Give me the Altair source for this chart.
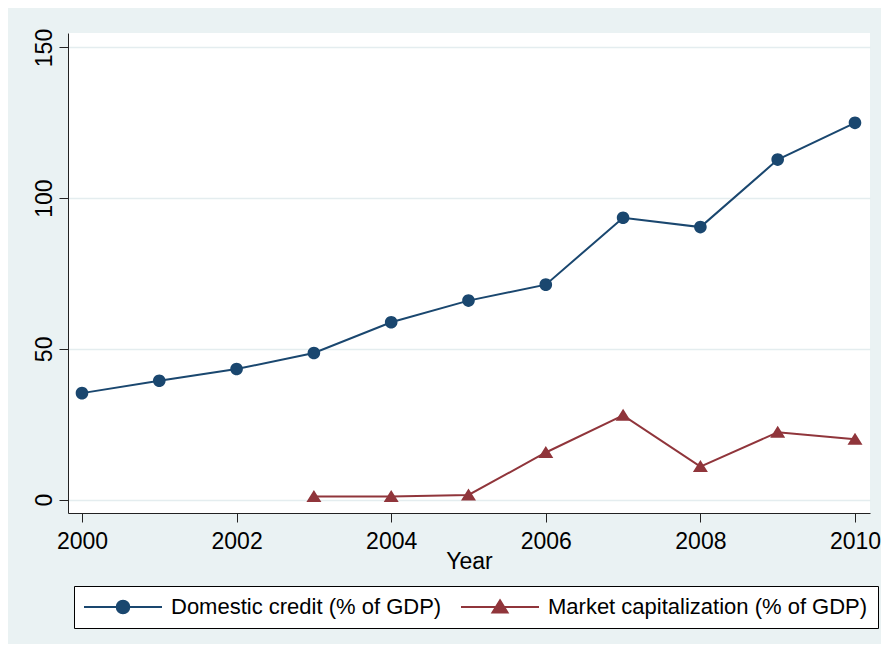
import altair as alt
import pandas as pd

# ---- data ----
years = [2000, 2001, 2002, 2003, 2004, 2005, 2006, 2007, 2008, 2009, 2010]
domestic_credit = [35.3, 39.4, 43.3, 48.6, 58.8, 66.0, 71.3, 93.5, 90.4, 112.8, 125.0]
market_cap_years = [2003, 2004, 2005, 2006, 2007, 2008, 2009, 2010]
market_cap = [1.0, 1.0, 1.5, 15.6, 27.9, 10.9, 22.3, 20.0]
series_names = ["Domestic credit (% of GDP)", "Market capitalization (% of GDP)"]
series_colors = ["#1A476F", "#90353B"]
x_ticks = [2000, 2002, 2004, 2006, 2008, 2010]
y_ticks = [0, 50, 100, 150]

FONT = "Liberation Sans"
BG = "#EAF2F3"

df_dc = pd.DataFrame({"Year": years, "value": domestic_credit, "series": series_names[0]})
df_mc = pd.DataFrame({"Year": market_cap_years, "value": market_cap, "series": series_names[1]})
df = pd.concat([df_dc, df_mc], ignore_index=True)

x_enc = alt.X(
    "Year:Q",
    scale=alt.Scale(domain=[1999.819, 2010.194], nice=False, zero=False),
    axis=alt.Axis(
        values=x_ticks, format="d", title="Year", grid=False,
        tickSize=9, labelPadding=8, labelFontSize=23, labelFont=FONT,
        labelColor="black", titleFont=FONT, titleFontSize=23,
        titleFontWeight="normal", titleColor="black",
        titleBaseline="top", titleY=37, domainColor="#222", tickColor="#222",
        labelFlush=False, labelOverlap=False,
    ),
)
y_enc = alt.Y(
    "value:Q",
    scale=alt.Scale(domain=[-4.48, 154.81], nice=False, zero=False),
    axis=alt.Axis(
        values=y_ticks, title=None, grid=True, gridColor="#E4EDEF", gridWidth=1.6,
        tickSize=9, labelPadding=8, labelAngle=270, labelAlign="center",
        labelBaseline="alphabetic", labelFontSize=23, labelFont=FONT,
        labelColor="black", domainColor="#222", tickColor="#222",
        labelFlush=False, labelOverlap=False,
    ),
)

# marker shapes: a line segment (invisible on filled plot points, stroked in the legend)
# with a circle / triangle in the middle
path_circle = "M-6.5,0L6.5,0M1.05,0A1.05,1.05,0,1,1,-1.05,0A1.05,1.05,0,1,1,1.05,0Z"
path_tri = "M-6.5,0L6.5,0M0,-1.1L1.25,0.9L-1.25,0.9Z"

leg = alt.Legend(
    title=None, orient="none", legendX=6, legendY=553, direction="horizontal",
    fillColor="white", strokeColor="black", padding=10,
    labelFont=FONT, labelFontSize=22, labelColor="black", labelLimit=1000,
    symbolSize=144, symbolStrokeWidth=2,
    symbolStrokeColor=alt.ExprRef("scale('color', datum.value)"),
    symbolOffset=28, labelOffset=37, columnPadding=15,
)
color_enc = alt.Color("series:N", scale=alt.Scale(domain=series_names, range=series_colors), legend=leg)
shape_enc = alt.Shape("series:N", scale=alt.Scale(domain=series_names, range=[path_circle, path_tri]), legend=leg)

lines = alt.Chart(df).mark_line(strokeWidth=2).encode(x=x_enc, y=y_enc, color=color_enc)

points = (
    alt.Chart(df)
    .mark_point(filled=True, opacity=1, size=144)
    .encode(x=x_enc, y=y_enc, color=color_enc, shape=shape_enc)
)

chart = (
    alt.layer(lines, points)
    .properties(
        width=802, height=480,
        padding={"left": 60, "top": 25, "right": 11, "bottom": 131},
        autosize=alt.AutoSizeParams(type="none"),
        background=BG,
    )
    .configure_view(fill="white", stroke=None)
)

chart.save("out.html", embed_options={"renderer": "svg", "actions": False})
